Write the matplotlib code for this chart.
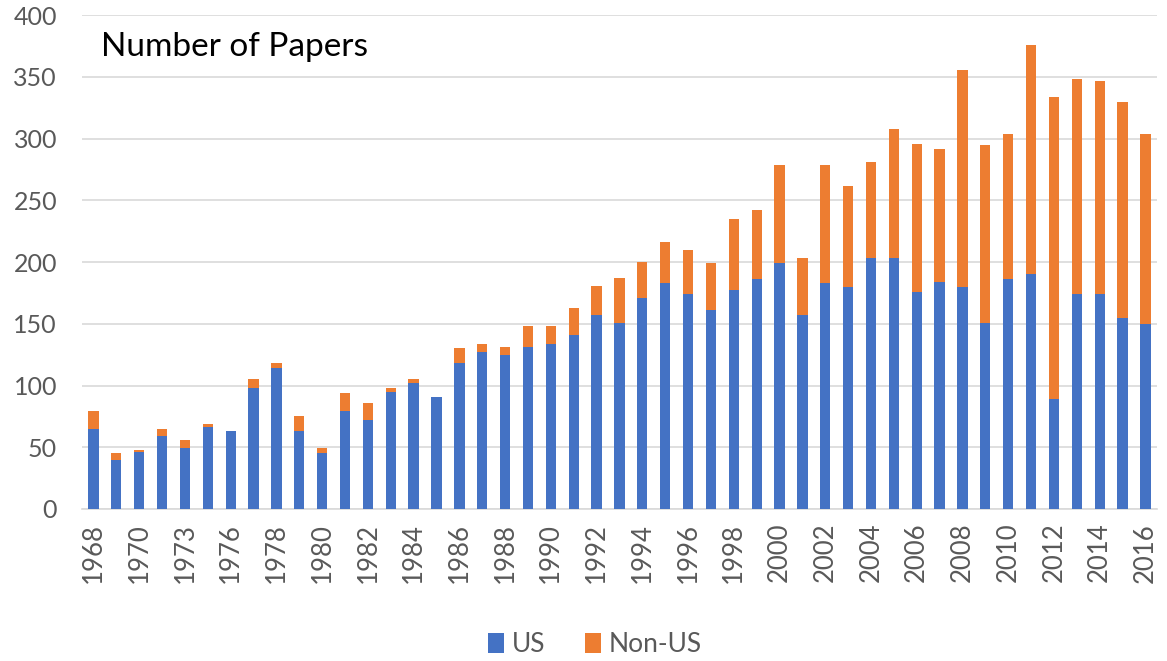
import matplotlib.pyplot as plt
import numpy as np

# Anos (algumas lacunas no início da série)
years = [1968, 1969, 1970, 1972, 1973, 1975, 1976] + list(range(1977, 2017))

us = [65, 40, 46, 59, 49, 66, 63, 98, 114, 63, 45, 79, 72, 95, 102, 91,
      118, 127, 125, 131, 134, 141, 157, 151, 171, 183, 174, 161, 177, 186,
      199, 157, 183, 180, 203, 203, 176, 184, 180, 151, 186, 190, 89, 174,
      174, 155, 150]
total = [79, 45, 48, 65, 56, 69, 63, 105, 118, 75, 49, 94, 86, 98, 105, 91,
         130, 134, 131, 148, 148, 163, 181, 187, 200, 216, 210, 199, 235, 242,
         279, 203, 279, 262, 281, 308, 296, 292, 356, 295, 304, 376, 334, 348,
         347, 330, 304]
non_us = [t - u for t, u in zip(total, us)]

blue = '#4472C4'
orange = '#ED7D31'
gray = '#595959'

plt.rcParams['font.family'] = ['Lato', 'DejaVu Sans']

fig = plt.figure(figsize=(11.67, 6.61), dpi=100)
ax = fig.add_axes([0.0703, 0.23, 0.921, 0.747])

x = np.arange(len(years))
w = 0.45
ax.bar(x, us, w, color=blue, label='US', zorder=3)
ax.bar(x, non_us, w, bottom=us, color=orange, label='Non-US', zorder=3)

ax.set_ylim(0, 400)
ax.set_xlim(-0.5, len(years) - 0.5)
ax.set_yticks(range(0, 401, 50))
ax.yaxis.grid(True, color='#D9D9D9', linewidth=1.2, zorder=0)
ax.set_axisbelow(True)

ax.set_xticks(x[::2])
ax.set_xticklabels([str(y) for y in years[::2]], rotation=90)
ax.tick_params(axis='both', length=0, labelsize=18, labelcolor=gray)
ax.tick_params(axis='x', labelsize=18.5, pad=10)
ax.tick_params(axis='y', pad=18)

for s in ['top', 'right', 'left']:
    ax.spines[s].set_visible(False)
ax.spines['bottom'].set_color('#D9D9D9')
ax.spines['bottom'].set_linewidth(1.2)

ax.text(0.018, 0.965, 'Number of Papers', transform=ax.transAxes,
        fontsize=24, color='black', va='top', ha='left')

fig.legend(loc='lower center', bbox_to_anchor=(0.51, -0.03), ncol=2,
           frameon=False, fontsize=19, handlelength=0.6, handleheight=0.8,
           handletextpad=0.3, columnspacing=1.5, labelcolor=gray)

plt.savefig('out.png', dpi=100)
